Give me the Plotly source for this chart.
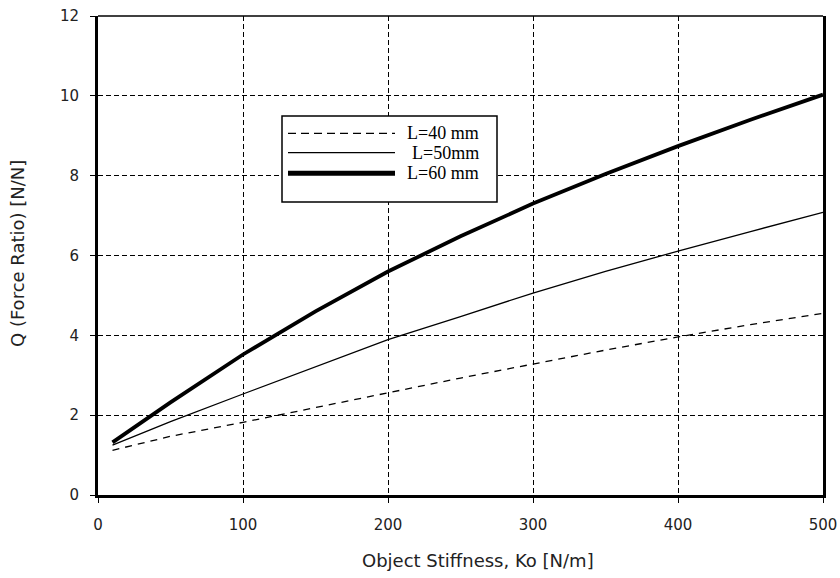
import plotly.graph_objects as go

# ---- data ----
stiffness = [10, 50, 100, 150, 200, 250, 300, 350, 400, 450, 500]
q_L40 = [1.12, 1.47, 1.82, 2.19, 2.57, 2.93, 3.28, 3.63, 3.96, 4.27, 4.55]
q_L50 = [1.25, 1.84, 2.53, 3.21, 3.89, 4.47, 5.06, 5.60, 6.11, 6.60, 7.08]
q_L60 = [1.32, 2.32, 3.52, 4.60, 5.60, 6.48, 7.30, 8.04, 8.74, 9.40, 10.03]

series_names = ["L=40 mm", "L=50mm", "L=60 mm"]
x_ticks = [0, 100, 200, 300, 400, 500]
y_ticks = [0, 2, 4, 6, 8, 10, 12]

fig = go.Figure()
fig.add_trace(go.Scatter(x=stiffness, y=q_L40, mode="lines", name=series_names[0],
                         line=dict(color="black", width=1.3, dash="7px,6px")))
fig.add_trace(go.Scatter(x=stiffness, y=q_L50, mode="lines", name=series_names[1],
                         line=dict(color="black", width=1.3)))
fig.add_trace(go.Scatter(x=stiffness, y=q_L60, mode="lines", name=series_names[2],
                         line=dict(color="black", width=3.8)))

W, H = 840, 578
L, R, T, B = 98, 17, 16, 83
pw, ph = W - L - R, H - T - B

def px(xp):
    return (xp - L) / pw

def py(yp):
    return (H - B - yp) / ph

shapes = []
# top border (thin)
shapes.append(dict(type="line", xref="paper", yref="paper", x0=0, x1=1, y0=1, y1=1,
                   line=dict(color="black", width=1.5), layer="above"))
# manual legend box
shapes.append(dict(type="rect", xref="paper", yref="paper",
                   x0=px(282), x1=px(497), y0=py(202), y1=py(116),
                   fillcolor="white", line=dict(color="black", width=1.5), layer="above"))
legend_rows = [133.3, 152.7, 173.3]
legend_styles = [dict(color="black", width=1.3, dash="8px,5px"),
                 dict(color="black", width=1.3),
                 dict(color="black", width=5)]
annotations = []
for yrow, st, name in zip(legend_rows, legend_styles, series_names):
    shapes.append(dict(type="line", xref="paper", yref="paper",
                       x0=px(288), x1=px(395), y0=py(yrow), y1=py(yrow),
                       line=st, layer="above"))
    annotations.append(dict(xref="paper", yref="paper", x=px(481), y=py(yrow),
                            text=name, showarrow=False, xanchor="right", yanchor="middle",
                            font=dict(family="Liberation Serif", size=18, color="black")))

# axis titles
annotations.append(dict(xref="paper", yref="paper", x=px(478), y=py(560),
                        text="Object Stiffness, Ko [N/m]", showarrow=False,
                        xanchor="center", yanchor="middle",
                        font=dict(family="DejaVu Sans", size=18, color="#222")))
annotations.append(dict(xref="paper", yref="paper", x=px(17), y=py(254),
                        text="Q (Force Ratio) [N/N]", showarrow=False, textangle=-90,
                        xanchor="center", yanchor="middle",
                        font=dict(family="DejaVu Sans", size=18, color="#222")))

fig.update_layout(
    width=W, height=H,
    margin=dict(l=L, r=R, t=T, b=B, pad=0, autoexpand=False),
    paper_bgcolor="white", plot_bgcolor="white",
    showlegend=False,
    shapes=shapes, annotations=annotations,
    font=dict(family="DejaVu Sans", size=15, color="#222"),
)
fig.update_xaxes(range=[0, 500], tickvals=x_ticks, ticktext=[str(v) for v in x_ticks],
                 showline=True, linecolor="black", linewidth=3, mirror=False,
                 ticks="outside", ticklen=5, tickcolor="black", tickwidth=1,
                 showgrid=True, gridcolor="black", gridwidth=1, griddash="5px,3px",
                 zeroline=False, ticklabelstandoff=9, automargin=False)
fig.update_yaxes(range=[0, 12], tickvals=y_ticks, ticktext=[str(v) for v in y_ticks],
                 showline=True, linecolor="black", linewidth=3, mirror=True,
                 ticks="outside", ticklen=5, tickcolor="black", tickwidth=1,
                 showgrid=True, gridcolor="black", gridwidth=1, griddash="5px,3px",
                 zeroline=False, ticklabelstandoff=8, automargin=False)

fig.write_html("out.html")
